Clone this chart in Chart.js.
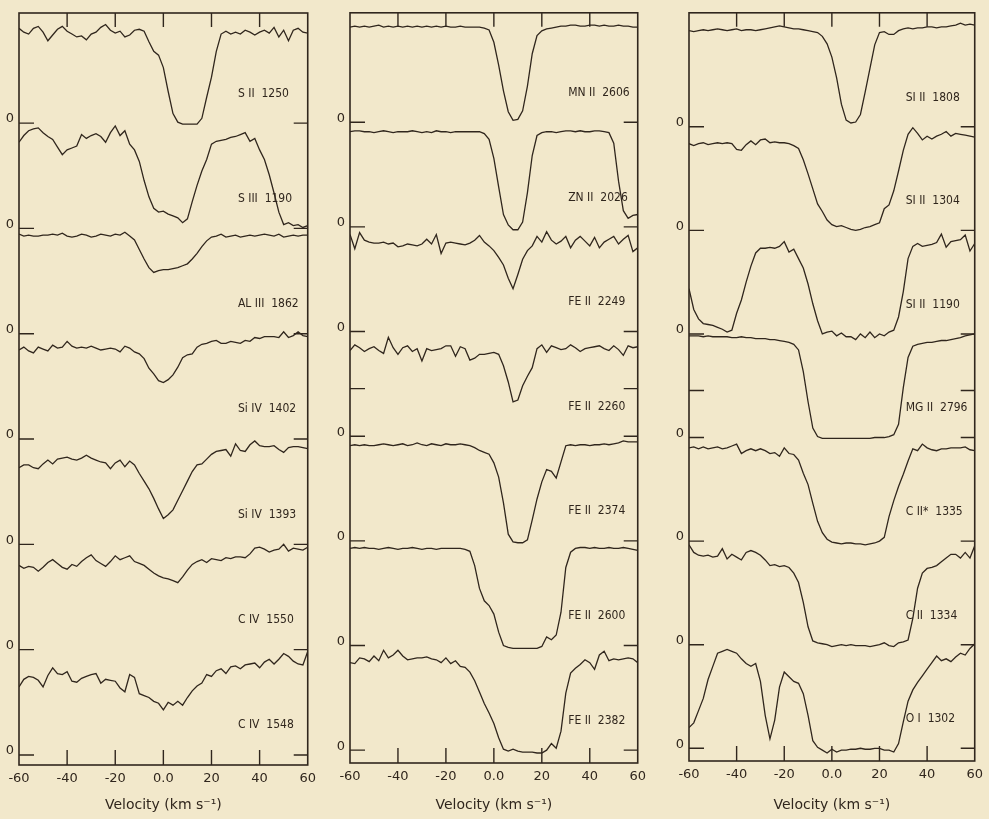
<!DOCTYPE html>
<html>
<head>
<meta charset="utf-8">
<script src="https://cdn.jsdelivr.net/npm/chart.js@4.4.1/dist/chart.umd.min.js"></script>
<style>
  html, body { margin: 0; padding: 0; background: #f2e8cb; }
  #wrap { position: relative; width: 989px; height: 819px; background: #f2e8cb; overflow: hidden; }
  canvas { position: absolute; top: 0; }
</style>
</head>
<body>
<div id="wrap">
  <canvas id="p1" width="322" height="819" style="left:0px"></canvas>
  <canvas id="p2" width="322" height="819" style="left:330px"></canvas>
  <canvas id="p3" width="321" height="819" style="left:668px"></canvas>
</div>
<script>
// ---------- data ----------
const velocity = [-60,-58,-56,-54,-52,-50,-48,-46,-44,-42,-40,-38,-36,-34,-32,-30,-28,-26,-24,-22,-20,-18,-16,-14,-12,-10,-8,-6,-4,-2,0,2,4,6,8,10,12,14,16,18,20,22,24,26,28,30,32,34,36,38,40,42,44,46,48,50,52,54,56,58,60];
const xTickValues = [-60,-40,-20,0,20,40,60];
const zeroOffsets = [6.6,5.5,4.4,3.3,2.2,1.1,0];
const axisTitle = 'Velocity (km s\u207B\u00B9)';

const panel1Names = ['S II  1250','S III  1190','AL III  1862','Si IV  1402','Si IV  1393','C IV  1550','C IV  1548'];
const panel2Names = ['MN II  2606','ZN II  2026','FE II  2249','FE II  2260','FE II  2374','FE II  2600','FE II  2382'];
const panel3Names = ['SI II  1808','SI II  1304','SI II  1190','MG II  2796','C II*  1335','C II  1334','O I  1302'];

// panel 1
const sII1250 = [0.99,0.95,0.93,0.99,1.01,0.95,0.86,0.92,0.98,1.01,
 0.96,0.93,0.90,0.91,0.87,0.93,0.95,1.00,1.03,0.97,
 0.94,0.96,0.90,0.92,0.97,0.98,0.96,0.85,0.75,0.71,
 0.58,0.33,0.10,0.01,-0.01,-0.01,-0.01,-0.01,0.05,0.27,
 0.48,0.75,0.93,0.96,0.93,0.95,0.93,0.97,0.95,0.92,
 0.95,0.97,0.94,1.00,0.90,0.97,0.86,0.97,0.99,0.95,0.94];
const sIII1190 = [0.90,0.97,1.02,1.04,1.05,1.00,0.96,0.93,0.85,0.77,
 0.82,0.84,0.86,0.98,0.94,0.97,0.99,0.96,0.90,1.00,
 1.07,0.97,1.02,0.88,0.82,0.70,0.50,0.33,0.21,0.17,
 0.18,0.15,0.13,0.11,0.06,0.10,0.28,0.45,0.60,0.72,
 0.88,0.91,0.92,0.93,0.95,0.96,0.98,1.00,0.91,0.94,
 0.82,0.72,0.56,0.37,0.17,0.04,0.06,0.03,0.04,0.01,0.03];
const alIII1862 = [1.04,1.02,1.03,1.02,1.02,1.03,1.03,1.04,1.03,1.05,
 1.02,1.01,1.02,1.04,1.03,1.01,1.02,1.04,1.03,1.02,
 1.04,1.03,1.06,1.02,0.98,0.88,0.78,0.69,0.64,0.66,
 0.67,0.67,0.68,0.69,0.71,0.73,0.78,0.84,0.91,0.97,
 1.01,1.02,1.04,1.01,1.02,1.03,1.01,1.02,1.03,1.02,
 1.03,1.04,1.03,1.02,1.04,1.01,1.02,1.03,1.02,1.03,1.03];
const siIV1402 = [0.93,0.96,0.92,0.90,0.96,0.94,0.92,0.98,0.95,0.96,
 1.02,0.97,0.95,0.96,0.95,0.97,0.95,0.93,0.94,0.95,
 0.94,0.91,0.97,0.95,0.91,0.89,0.84,0.74,0.68,0.61,
 0.59,0.62,0.67,0.75,0.85,0.88,0.89,0.96,0.99,1.00,
 1.02,1.03,1.00,1.00,1.02,1.01,1.00,1.03,1.02,1.06,
 1.05,1.07,1.07,1.07,1.06,1.12,1.06,1.08,1.12,1.08,1.07];
const siIV1393 = [0.80,0.83,0.83,0.80,0.79,0.84,0.88,0.84,0.89,0.90,
 0.91,0.89,0.88,0.90,0.93,0.90,0.88,0.86,0.85,0.79,
 0.85,0.88,0.81,0.87,0.83,0.74,0.66,0.58,0.48,0.37,
 0.27,0.31,0.36,0.46,0.56,0.66,0.76,0.83,0.84,0.89,
 0.94,0.97,0.98,0.99,0.92,1.05,0.98,0.97,1.04,1.08,
 1.03,1.02,1.02,1.03,0.99,0.96,1.01,1.02,1.02,1.01,1.00];
const cIV1550 = [0.88,0.85,0.87,0.86,0.82,0.86,0.91,0.94,0.90,0.86,
 0.84,0.89,0.87,0.92,0.96,0.99,0.93,0.90,0.87,0.92,
 0.98,0.94,0.96,0.98,0.92,0.90,0.88,0.84,0.80,0.77,
 0.75,0.74,0.72,0.70,0.76,0.83,0.89,0.92,0.94,0.91,
 0.95,0.94,0.93,0.96,0.95,0.97,0.97,0.96,1.00,1.06,
 1.07,1.05,1.02,1.04,1.05,1.10,1.03,1.06,1.05,1.04,1.07];
const cIV1548 = [0.71,0.79,0.82,0.81,0.78,0.71,0.83,0.91,0.85,0.84,
 0.87,0.77,0.76,0.80,0.82,0.84,0.85,0.75,0.79,0.78,
 0.77,0.70,0.66,0.84,0.81,0.64,0.62,0.60,0.56,0.54,
 0.47,0.55,0.52,0.56,0.52,0.60,0.67,0.72,0.75,0.84,
 0.82,0.88,0.90,0.85,0.92,0.93,0.90,0.94,0.95,0.96,
 0.91,0.97,1.00,0.95,1.00,1.06,1.03,0.98,0.95,0.94,1.08];

// panel 2
const mnII2606 = [1.00,1.01,1.00,1.01,1.00,1.01,1.02,1.00,1.01,1.00,
 1.01,1.00,1.01,1.00,1.01,1.00,1.01,1.00,1.01,1.00,
 1.01,1.00,1.00,1.01,1.00,1.00,1.00,1.00,0.99,0.97,
 0.84,0.60,0.33,0.11,0.02,0.03,0.12,0.38,0.72,0.91,
 0.96,0.98,0.99,1.00,1.01,1.01,1.02,1.02,1.01,1.01,
 1.02,1.02,1.01,1.02,1.01,1.01,1.02,1.01,1.01,1.00,1.00];
const znII2026 = [1.00,1.01,1.01,1.00,1.00,0.99,1.00,1.01,1.00,0.99,
 1.00,1.00,1.00,1.01,1.00,0.99,1.00,0.99,1.01,1.00,
 1.00,0.99,1.00,1.00,1.00,1.00,1.00,1.00,0.98,0.92,
 0.72,0.42,0.13,0.02,-0.03,-0.03,0.05,0.36,0.75,0.96,
 0.99,1.00,1.00,0.99,1.00,1.01,1.01,1.00,1.01,1.00,
 1.00,1.01,1.01,1.00,0.99,0.88,0.48,0.17,0.09,0.12,0.13];
const feII2249 = [1.02,0.87,1.04,0.96,0.94,0.93,0.93,0.94,0.92,0.93,
 0.89,0.90,0.92,0.91,0.90,0.92,0.97,0.92,1.02,0.82,
 0.93,0.94,0.93,0.92,0.91,0.93,0.96,1.01,0.94,0.90,
 0.85,0.78,0.70,0.56,0.45,0.60,0.76,0.85,0.90,1.00,
 0.94,1.05,0.96,0.92,0.95,1.00,0.88,0.96,1.00,0.95,
 0.90,0.99,0.88,0.94,0.97,1.00,0.92,0.97,1.01,0.84,0.88];
const feII2260 = [0.90,0.96,0.93,0.89,0.92,0.94,0.90,0.87,1.04,0.93,
 0.86,0.93,0.95,0.89,0.92,0.79,0.92,0.90,0.91,0.92,
 0.95,0.95,0.84,0.94,0.92,0.80,0.82,0.86,0.86,0.87,
 0.88,0.86,0.74,0.57,0.36,0.38,0.53,0.63,0.72,0.92,
 0.96,0.88,0.95,0.93,0.91,0.92,0.96,0.93,0.89,0.92,
 0.93,0.94,0.95,0.92,0.90,0.95,0.91,0.85,0.95,0.93,0.94];
const feII2374 = [1.00,1.01,1.00,1.01,1.00,1.00,1.01,1.02,1.01,1.00,
 1.01,1.02,1.00,1.01,1.03,1.01,1.00,1.02,1.01,1.00,
 1.02,1.01,1.01,1.02,1.01,1.00,0.98,0.95,0.93,0.91,
 0.82,0.67,0.40,0.07,-0.01,-0.02,-0.02,0.01,0.22,0.44,
 0.62,0.75,0.73,0.66,0.83,1.00,1.01,1.00,1.01,1.01,
 1.00,1.01,1.01,1.02,1.01,1.02,1.03,1.05,1.04,1.04,1.04];
const feII2600 = [1.02,1.03,1.02,1.03,1.02,1.02,1.01,1.02,1.03,1.02,
 1.01,1.02,1.02,1.03,1.02,1.01,1.02,1.02,1.01,1.02,
 1.02,1.02,1.02,1.02,1.01,0.99,0.84,0.60,0.47,0.42,
 0.33,0.14,0.00,-0.02,-0.03,-0.03,-0.03,-0.03,-0.03,-0.03,
 -0.01,0.09,0.06,0.11,0.35,0.82,0.98,1.02,1.03,1.03,
 1.02,1.03,1.02,1.02,1.03,1.02,1.02,1.03,1.02,1.01,1.00];
const feII2382 = [0.92,0.91,0.97,0.96,0.93,0.99,0.94,1.05,0.97,1.00,
 1.05,0.99,0.95,0.96,0.97,0.97,0.98,0.96,0.95,0.92,
 0.97,0.91,0.94,0.88,0.87,0.82,0.73,0.61,0.49,0.39,
 0.28,0.13,0.01,-0.01,0.01,-0.01,-0.02,-0.02,-0.02,-0.03,
 -0.03,0.00,0.07,0.02,0.20,0.60,0.81,0.86,0.90,0.95,
 0.92,0.85,1.00,1.04,0.94,0.96,0.95,0.96,0.97,0.96,0.92];

// panel 3
const siII1808 = [1.02,1.01,1.02,1.03,1.02,1.03,1.04,1.03,1.02,1.03,
 1.04,1.02,1.03,1.03,1.02,1.03,1.04,1.05,1.06,1.07,
 1.06,1.05,1.04,1.04,1.03,1.02,1.01,1.00,0.96,0.88,
 0.74,0.52,0.24,0.07,0.04,0.05,0.13,0.37,0.62,0.87,
 1.00,1.01,0.98,0.98,1.02,1.04,1.05,1.04,1.05,1.05,
 1.06,1.06,1.05,1.06,1.06,1.07,1.08,1.10,1.08,1.09,1.08];
const siII1304 = [0.92,0.90,0.92,0.93,0.91,0.92,0.93,0.92,0.93,0.92,
 0.86,0.85,0.91,0.95,0.91,0.96,0.97,0.93,0.94,0.93,
 0.93,0.92,0.90,0.87,0.75,0.60,0.44,0.28,0.20,0.11,
 0.06,0.04,0.05,0.03,0.01,0.00,0.01,0.03,0.04,0.06,
 0.08,0.23,0.27,0.42,0.63,0.85,1.02,1.09,1.03,0.96,
 1.00,0.97,1.00,1.02,1.05,1.00,1.03,1.02,1.01,1.00,0.99];
const siII1190 = [0.48,0.26,0.16,0.11,0.10,0.09,0.07,0.05,0.02,0.04,
 0.22,0.36,0.55,0.72,0.86,0.91,0.91,0.92,0.91,0.93,
 0.98,0.87,0.90,0.80,0.70,0.53,0.32,0.14,0.00,0.02,
 0.03,-0.02,0.01,-0.03,-0.03,-0.06,0.00,-0.04,0.02,-0.04,
 0.00,-0.02,0.02,0.04,0.18,0.45,0.80,0.93,0.96,0.93,
 0.94,0.95,0.97,1.06,0.92,0.98,0.99,1.00,1.05,0.88,0.96];
const mgII2796 = [1.08,1.08,1.08,1.07,1.08,1.07,1.07,1.07,1.07,1.06,
 1.06,1.07,1.06,1.06,1.05,1.05,1.05,1.04,1.04,1.03,
 1.02,1.01,0.99,0.93,0.70,0.38,0.10,0.01,-0.01,-0.01,
 -0.01,-0.01,-0.01,-0.01,-0.01,-0.01,-0.01,-0.01,-0.01,0.00,
 0.00,0.00,0.01,0.03,0.14,0.53,0.85,0.97,0.99,1.00,
 1.01,1.01,1.02,1.03,1.03,1.04,1.05,1.06,1.08,1.09,1.10];
const cIIs1335 = [0.99,1.00,0.98,1.00,0.98,0.99,1.00,0.98,0.99,1.01,
 1.03,0.93,0.96,0.98,0.96,0.98,0.96,0.93,0.94,0.90,
 0.99,0.93,0.92,0.86,0.72,0.60,0.40,0.21,0.09,0.02,
 -0.01,-0.02,-0.03,-0.02,-0.02,-0.03,-0.03,-0.04,-0.03,-0.02,
 0.00,0.04,0.26,0.43,0.58,0.71,0.85,0.98,0.96,1.03,
 0.99,0.97,0.96,0.98,0.98,0.99,0.99,0.99,1.00,0.97,0.96];
const cII1334 = [1.06,0.98,0.95,0.94,0.95,0.93,0.94,1.02,0.91,0.96,
 0.93,0.90,0.98,1.00,0.98,0.95,0.90,0.84,0.85,0.83,
 0.84,0.82,0.76,0.66,0.45,0.19,0.04,0.02,0.01,0.00,
 -0.02,-0.01,0.00,-0.01,0.00,-0.01,-0.01,-0.01,-0.02,-0.01,
 0.00,0.02,-0.01,-0.02,0.02,0.03,0.05,0.28,0.60,0.76,
 0.81,0.82,0.84,0.88,0.92,0.96,0.96,0.92,0.98,0.92,1.05];
const oI1302 = [0.22,0.27,0.40,0.53,0.73,0.87,1.01,1.03,1.05,1.03,
 1.01,0.95,0.90,0.87,0.90,0.71,0.35,0.10,0.30,0.65,
 0.81,0.76,0.71,0.69,0.58,0.35,0.08,0.01,-0.02,-0.05,
 -0.01,-0.04,-0.02,-0.02,-0.01,-0.01,0.00,-0.01,-0.01,0.00,
 0.00,-0.02,-0.02,-0.04,0.05,0.28,0.50,0.62,0.70,0.77,
 0.84,0.91,0.98,0.93,0.95,0.92,0.97,1.01,0.99,1.06,1.11];

// ---------- drawing ----------
const INK = '#30261d';
const FONT = '"DejaVu Sans", "Liberation Sans", sans-serif';
const STRETCH = 'condensed';

const decorations = {
  id: 'decorations',
  afterDraw(chart, args, o) {
    const { ctx, chartArea: a, scales: { x, y } } = chart;
    ctx.save();
    ctx.strokeStyle = INK;
    ctx.lineWidth = 1.6;
    ctx.strokeRect(a.left, a.top, a.right - a.left, a.bottom - a.top);
    ctx.lineWidth = 1.4;
    ctx.beginPath();
    x.ticks.forEach(t => {
      if (t.value > -60 && t.value < 60) {
        const px = x.getPixelForValue(t.value);
        ctx.moveTo(px, a.bottom); ctx.lineTo(px, a.bottom - 15);
        ctx.moveTo(px, a.top); ctx.lineTo(px, a.top + 14);
      }
    });
    y.ticks.forEach(t => {
      const py = y.getPixelForValue(t.value);
      ctx.moveTo(a.left, py); ctx.lineTo(a.left + 15, py);
      ctx.moveTo(a.right, py); ctx.lineTo(a.right - 14, py);
    });
    if (o.halfTick != null) {
      const py = y.getPixelForValue(zeroOffsets[o.halfTick] + 0.5);
      ctx.moveTo(a.left, py); ctx.lineTo(a.left + 15, py);
      ctx.moveTo(a.right, py); ctx.lineTo(a.right - 14, py);
    }
    ctx.stroke();
    ctx.fillStyle = INK;
    ctx.font = STRETCH + ' 12px ' + FONT;
    ctx.textBaseline = 'middle';
    ctx.textAlign = 'left';
    o.names.forEach((n, i) => {
      ctx.fillText(n, x.getPixelForValue(31), y.getPixelForValue(zeroOffsets[i] + 0.31));
    });
    ctx.restore();
  }
};

function makePanel(id, names, series, lay) {
  const datasets = series.map((s, i) => ({
    data: velocity.map((v, k) => ({ x: v, y: s[k] + zeroOffsets[i] })),
    borderColor: INK,
    borderWidth: 1.3,
    pointRadius: 0,
    tension: 0,
    fill: false
  }));
  new Chart(document.getElementById(id), {
    type: 'line',
    data: { datasets },
    plugins: [decorations],
    options: {
      responsive: false,
      animation: false,
      layout: { padding: { top: lay.top, right: lay.right, left: 0, bottom: 0 } },
      plugins: {
        legend: { display: false },
        tooltip: { enabled: false },
        decorations: { names, halfTick: lay.halfTick }
      },
      scales: {
        x: {
          type: 'linear', min: -60, max: 60,
          afterBuildTicks: s => { s.ticks = xTickValues.map(v => ({ value: v })); },
          afterFit: s => { s.height = 819 - lay.bottom; },
          ticks: {
            color: INK, padding: 6, maxRotation: 0, autoSkip: false,
            font: { family: FONT, size: 13, style: STRETCH },
            callback: v => (v === 0 ? '0.0' : String(v))
          },
          grid: { display: false, drawTicks: false },
          border: { display: false },
          title: {
            display: true, text: axisTitle, color: INK,
            font: { family: FONT, size: 14, style: STRETCH },
            padding: { top: 0, bottom: 5 }
          }
        },
        y: {
          type: 'linear', min: lay.ymin, max: lay.ymax,
          afterBuildTicks: s => { s.ticks = zeroOffsets.map(v => ({ value: v })); },
          afterFit: s => { s.width = lay.left; },
          ticks: {
            color: INK, padding: 5, labelOffset: -4,
            font: { family: FONT, size: 13, style: STRETCH },
            callback: () => '0'
          },
          grid: { display: false, drawTicks: false },
          border: { display: false }
        }
      }
    }
  });
}

makePanel('p1', panel1Names, [sII1250, sIII1190, alIII1862, siIV1402, siIV1393, cIV1550, cIV1548],
  { left: 19, right: 12, top: 13, bottom: 765, ymin: -0.105, ymax: 7.75, halfTick: null });
makePanel('p2', panel2Names, [mnII2606, znII2026, feII2249, feII2260, feII2374, feII2600, feII2382],
  { left: 20, right: 9, top: 10, bottom: 763, ymin: -0.135, ymax: 7.75, halfTick: 3 });
makePanel('p3', panel3Names, [siII1808, siII1304, siII1190, mgII2796, cIIs1335, cII1334, oI1302],
  { left: 21, right: 10, top: 6, bottom: 761, ymin: -0.135, ymax: 7.81, halfTick: 3 });
</script>
</body>
</html>
